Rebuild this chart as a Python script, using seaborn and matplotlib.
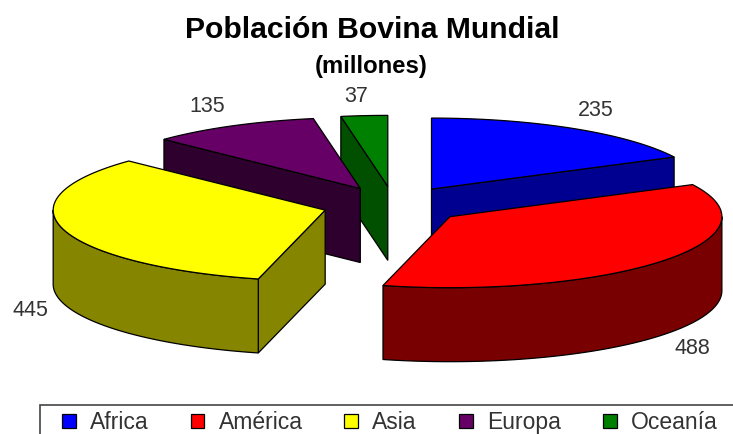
#!/usr/bin/env python
import numpy as np
import matplotlib
matplotlib.use("Agg")
import matplotlib.pyplot as plt
from matplotlib.patches import Patch, Rectangle
import seaborn as sns

regions = ["Africa", "América", "Asia", "Europa", "Oceanía"]
cattle = [235, 488, 445, 135, 37]
top_hex = ["#0000ff", "#ff0000", "#ffff00", "#660066", "#008000"]
side_hex = ["#000090", "#780000", "#858500", "#2e002e", "#005000"]
label_xy = [(596, 110), (692, 348), (30, 310), (207, 106), (356, 96)]
draw_order = [4, 3, 0, 2, 1]

# pie geometry, in pixels
cx, cy = 394, 205
rx, ry = 272, 71
depth = 74
explode = 71.6

sns.set_theme(style="white")
plt.rcParams["font.family"] = ["Liberation Sans", "DejaVu Sans"]
top_colors = sns.color_palette(top_hex)
side_colors = sns.color_palette(side_hex)


def pt(ax0, ay0, deg):
    a = np.radians(deg)
    return ax0 + rx*np.sin(a), ay0 - ry*np.cos(a)


def draw_slice(ax, start, end, top, side):
    mid = np.radians((start+end)/2)
    x0 = cx + explode*np.sin(mid)
    y0 = cy - explode*ry/rx*np.cos(mid)

    # cut faces, only those turned to the viewer
    for deg, show in ((start, np.sin(np.radians(start)) < 0), (end, np.sin(np.radians(end)) > 0)):
        if show:
            xe, ye = pt(x0, y0, deg)
            ax.fill([x0, xe, xe, x0], [y0, ye, ye+depth, y0+depth], fc=side, ec="black", lw=0.9)

    # outer wall
    lo, hi = max(start, 90), min(end, 270)
    if lo < hi:
        xs, ys = pt(x0, y0, np.linspace(lo, hi, 80))
        ax.fill(np.r_[xs, xs[::-1]], np.r_[ys, ys[::-1]+depth], fc=side, ec="black", lw=0.9)

    # top face
    xs, ys = pt(x0, y0, np.linspace(start, end, 80))
    ax.fill(np.r_[x0, xs], np.r_[y0, ys], fc=top, ec="black", lw=0.9)


fig, ax = plt.subplots(figsize=(7.33, 4.34), dpi=100)
fig.subplots_adjust(0, 0, 1, 1)
ax.set_xlim(0, 733)
ax.set_ylim(434, 0)
ax.axis("off")

edges = np.r_[0, np.cumsum(cattle)]/np.sum(cattle)*360
for i in draw_order:
    draw_slice(ax, edges[i], edges[i+1], top_colors[i], side_colors[i])

for i in range(len(cattle)):
    ax.text(label_xy[i][0], label_xy[i][1], str(cattle[i]), ha="center", va="center",
            fontsize=15.5, color="#333333")

ax.text(372, 30, "Población Bovina Mundial", ha="center", va="center", fontsize=21.7, fontweight="bold", color="black")
ax.text(371, 67, "(millones)", ha="center", va="center", fontsize=17.2, fontweight="bold", color="black")

# legend box runs off the right and bottom of the picture
ax.add_patch(Rectangle((40, 405), 720, 60, fc="white", ec="#444444", lw=1.2))
handles = [Patch(fc=top_colors[i], ec="black", lw=0.9) for i in range(len(regions))]
leg = ax.legend(handles, regions, ncol=5, loc="upper left", bbox_to_anchor=(62/733, 1-411/434),
                bbox_transform=ax.transAxes, borderaxespad=0, borderpad=0, fontsize=16.5, frameon=False,
                labelcolor="#333333", handlelength=0.61, handleheight=0.61, handletextpad=0.61, columnspacing=1.83)

plt.savefig("out.png", dpi=100)
plt.close()
